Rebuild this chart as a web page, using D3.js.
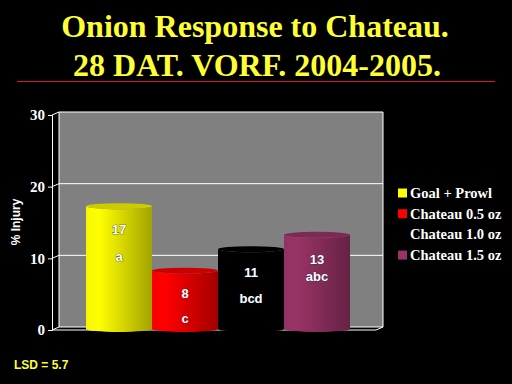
<!DOCTYPE html>
<html>
<head>
<meta charset="utf-8">
<script src="https://cdn.jsdelivr.net/npm/d3@7"></script>
<style>
  body { margin: 0; background: #000; }
  svg { display: block; }
</style>
</head>
<body>
<svg id="chart" width="512" height="384"></svg>
<script>
// data
let treatments = ['Goal + Prowl', 'Chateau 0.5 oz', 'Chateau 1.0 oz', 'Chateau 1.5 oz'];
let injury = [17, 8, 11, 13];
let letters = ['a', 'c', 'bcd', 'abc'];
let yTicks = [0, 10, 20, 30];
let colors = ['#ffff00', '#ff0000', '#000000', '#993366'];
let shades = ['#a3a300', '#a30000', '#000000', '#652243'];

let svg = d3.select('#chart');
let depth = {x: 7, y: -3};

let y = d3.scaleLinear().domain([0, 30]).range([330, 115]);
let x = d3.scaleBand().domain(treatments).range([86, 350]).padding(0);
let floorX = [52, 376];

let defs = svg.append('defs');
treatments.forEach((t, i) => {
    let g = defs.append('linearGradient').attr('id', 'grad' + i)
        .attr('x1', '0%').attr('x2', '100%').attr('y1', '0%').attr('y2', '0%');
    g.append('stop').attr('offset', '0%').attr('stop-color', d3.interpolateRgb(colors[i], shades[i])(0.1));
    g.append('stop').attr('offset', '20%').attr('stop-color', colors[i]);
    g.append('stop').attr('offset', '100%').attr('stop-color', shades[i]);
});

// title
let title = svg.append('g')
    .style('font-family', '"Liberation Serif", "Times New Roman", serif')
    .style('font-weight', 'bold').style('font-size', '32px')
    .attr('fill', '#ffff33').attr('text-anchor', 'middle');
title.append('text').attr('x', 255).attr('y', 37).text('Onion Response to Chateau.');
title.append('text').attr('x', 257).attr('y', 76).text('28 DAT. VORF. 2004-2005.');
svg.append('line').attr('x1', 17).attr('x2', 495).attr('y1', 81.5).attr('y2', 81.5)
    .attr('stroke', '#dc143c').attr('stroke-width', 1);

// back wall
svg.append('rect')
    .attr('x', floorX[0] + depth.x).attr('y', y(30) + depth.y)
    .attr('width', floorX[1] - floorX[0]).attr('height', y(0) - y(30))
    .attr('fill', '#808080');

// gridlines on back wall + side stubs
svg.selectAll('.grid').data(yTicks).enter().append('polyline')
    .attr('class', 'grid')
    .attr('points', d => [
        [floorX[0], y(d)], [floorX[0] + depth.x, y(d) + depth.y], [floorX[1] + depth.x, y(d) + depth.y]
    ].join(' '))
    .attr('fill', 'none').attr('stroke', '#fff').attr('stroke-width', 1);
svg.append('line')
    .attr('x1', floorX[1] + depth.x).attr('x2', floorX[1] + depth.x)
    .attr('y1', y(30) + depth.y).attr('y2', y(0) + depth.y)
    .attr('stroke', '#fff');
svg.append('line')
    .attr('x1', floorX[0] + depth.x).attr('x2', floorX[0] + depth.x)
    .attr('y1', y(30) + depth.y).attr('y2', y(0) + depth.y)
    .attr('stroke', '#fff');

// floor front edge
svg.append('polyline')
    .attr('points', [[floorX[0], y(0)], [floorX[1], y(0)], [floorX[1] + depth.x, y(0) + depth.y]].join(' '))
    .attr('fill', 'none').attr('stroke', '#fff');

// y axis
let axis = svg.append('g').attr('transform', 'translate(' + floorX[0] + ',0)')
    .call(d3.axisLeft(y).tickValues(yTicks).tickSize(4).tickPadding(3));
axis.selectAll('path, line').attr('stroke', '#fff');
axis.selectAll('text').attr('fill', '#fff')
    .style('font-family', '"Liberation Serif", "Times New Roman", serif')
    .style('font-weight', 'bold').style('font-size', '15px');

svg.append('text')
    .attr('transform', 'translate(20,222) rotate(-90)')
    .attr('text-anchor', 'middle').attr('fill', '#fff')
    .style('font-family', '"Liberation Sans", Arial, sans-serif')
    .style('font-weight', 'bold').style('font-size', '12px')
    .text('% Injury');

// cylinders
let ry = 3;
let bars = svg.selectAll('.bar').data(treatments).enter().append('g').attr('class', 'bar');
bars.append('path')
    .attr('d', (d, i) => {
        let x0 = x(d), x1 = x(d) + x.bandwidth(), rx = x.bandwidth() / 2;
        let top = y(injury[i]) - 2, bot = y(0) - 1;
        return 'M' + x0 + ',' + top + ' L' + x0 + ',' + bot +
            ' A' + rx + ',' + ry + ' 0 0 0 ' + x1 + ',' + bot +
            ' L' + x1 + ',' + top + ' A' + rx + ',' + ry + ' 0 0 1 ' + x0 + ',' + top + 'Z';
    })
    .attr('fill', (d, i) => 'url(#grad' + i + ')');
bars.append('ellipse')
    .attr('cx', d => x(d) + x.bandwidth() / 2)
    .attr('cy', (d, i) => y(injury[i]) - 2)
    .attr('rx', x.bandwidth() / 2).attr('ry', ry)
    .attr('fill', (d, i) => d3.interpolateRgb(colors[i], shades[i])(0.55));

// bar labels
let labelY = [[229, 256], [293, 318], [272, 298], [259, 276]];
let lab = svg.append('g').attr('text-anchor', 'middle').attr('fill', '#fff')
    .attr('stroke', '#102040').attr('stroke-width', 0.6).style('paint-order', 'stroke')
    .style('font-family', '"Liberation Sans", Arial, sans-serif')
    .style('font-weight', 'bold').style('font-size', '13px');
treatments.forEach((t, i) => {
    let cx = x(t) + x.bandwidth() / 2;
    lab.append('text').attr('x', cx).attr('y', labelY[i][0]).attr('dy', '0.35em').text(injury[i]);
    lab.append('text').attr('x', cx).attr('y', labelY[i][1]).attr('dy', '0.35em').text(letters[i]);
});

// legend
let legend = svg.selectAll('.legend').data(treatments).enter().append('g')
    .attr('class', 'legend')
    .attr('transform', (d, i) => 'translate(398,' + (193 + i * 20.7) + ')');
legend.append('rect').attr('x', 0).attr('y', -4.5).attr('width', 9).attr('height', 9)
    .attr('fill', (d, i) => colors[i]);
legend.append('text').attr('x', 12).attr('dy', '0.35em').attr('fill', '#fff')
    .style('font-family', '"Liberation Serif", "Times New Roman", serif')
    .style('font-weight', 'bold').style('font-size', '14.5px')
    .text(d => d);

svg.append('text').attr('x', 14).attr('y', 369).attr('fill', '#ffff33')
    .style('font-family', '"Liberation Sans", Arial, sans-serif')
    .style('font-weight', 'bold').style('font-size', '12px')
    .text('LSD = 5.7');
</script>
</body>
</html>
